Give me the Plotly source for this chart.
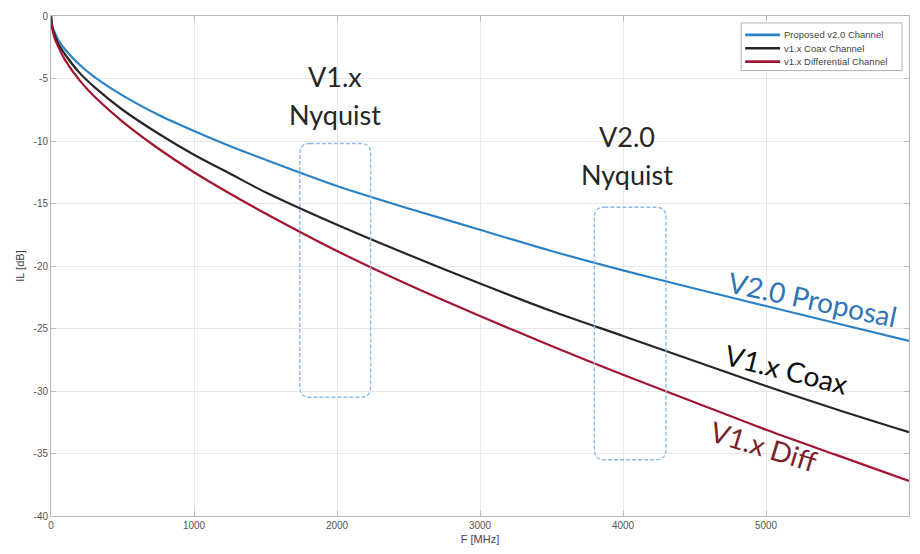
import plotly.graph_objects as go

# Frequencies [MHz]
freq = [0, 10, 25, 50, 100, 200, 300, 500, 750, 1000, 1250, 1500, 2000, 2500,
        3000, 3500, 4000, 4500, 5000, 5500, 6000]

# Insertion loss [dB]
il_v20 = [0.0, -0.85, -1.3, -1.9, -2.7, -3.9, -4.85, -6.35, -7.9, -9.2, -10.4, -11.5,
          -13.6, -15.4, -17.1, -18.8, -20.35, -21.8, -23.2, -24.6, -26.0]
il_coax = [0.0, -0.95, -1.5, -2.2, -3.1, -4.55, -5.65, -7.5, -9.4, -11.1, -12.6, -14.1,
           -16.7, -19.1, -21.4, -23.6, -25.6, -27.6, -29.6, -31.5, -33.3]
il_diff = [0.0, -1.1, -1.75, -2.45, -3.55, -5.15, -6.4, -8.45, -10.6, -12.5, -14.2, -15.8,
           -18.8, -21.5, -24.0, -26.4, -28.7, -30.9, -33.1, -35.15, -37.2]

series_names = ["Proposed v2.0 Channel", "v1.x Coax Channel", "v1.x Differential Channel"]
series_colors = ["#2b82c6", "#262626", "#a2142f"]

x_ticks = [0, 1000, 2000, 3000, 4000, 5000, 6000]
y_ticks = [0, -5, -10, -15, -20, -25, -30, -35, -40]

# Nyquist boxes: (x0, x1, y0, y1)
nyq_boxes = [(1740, 2235, -30.5, -10.2), (3800, 4300, -35.5, -15.3)]
nyq_labels = [("V1.x", 1984, -4.8), ("Nyquist", 1984, -7.85),
              ("V2.0", 4030, -9.65), ("Nyquist", 4030, -12.7)]

curve_labels = [("V2.0 Proposal", 5322, -22.6, 12, "#2e75b6"),
                ("V1.x Coax", 5141, -28.2, 14, "#111111"),
                ("V1.x Diff", 4987, -34.4, 17, "#7a1f2b")]

fig = go.Figure()
for name, ys, col in zip(series_names, [il_v20, il_coax, il_diff], series_colors):
    fig.add_trace(go.Scatter(x=freq, y=ys, mode="lines", name=name, showlegend=False,
                             line=dict(color=col, width=2.2, shape="spline", smoothing=0.8)))


def rounded_rect(x0, x1, y0, y1, rx=70, ry=0.8):
    return (f"M {x0+rx},{y1} L {x1-rx},{y1} Q {x1},{y1} {x1},{y1-ry} "
            f"L {x1},{y0+ry} Q {x1},{y0} {x1-rx},{y0} L {x0+rx},{y0} "
            f"Q {x0},{y0} {x0},{y0+ry} L {x0},{y1-ry} Q {x0},{y1} {x0+rx},{y1} Z")


for (x0, x1, y0, y1) in nyq_boxes:
    fig.add_shape(type="path", path=rounded_rect(x0, x1, y0, y1), xref="x", yref="y",
                  line=dict(color="#8cbbea", width=1.4, dash="4px,2px"))

for txt, x, y in nyq_labels:
    fig.add_annotation(x=x, y=y, xref="x", yref="y", text=txt, showarrow=False,
                       font=dict(family="Lato, Open Sans, sans-serif", size=27, color="#262626"))

for txt, x, y, ang, col in curve_labels:
    fig.add_annotation(x=x, y=y, xref="x", yref="y", text=txt, showarrow=False,
                       textangle=ang,
                       font=dict(family="Lato, Open Sans, sans-serif", size=28, color=col))

# Manual legend (plot-area paper coordinates)
PX0, PX1, PY0, PY1 = 51, 910, 12, 516


def px_x(p):
    return (p - PX0) / (PX1 - PX0)


def px_y(p):
    return (PY1 - p) / (PY1 - PY0)


fig.add_shape(type="rect", xref="paper", yref="paper",
              x0=px_x(742), x1=px_x(903), y0=px_y(67), y1=px_y(19),
              line=dict(color="#b0b0b0", width=1), fillcolor="white", layer="above")
for i, (name, col) in enumerate(zip(series_names, series_colors)):
    yy = px_y(31 + i * 13.5)
    fig.add_shape(type="line", xref="paper", yref="paper",
                  x0=px_x(746), x1=px_x(781), y0=yy, y1=yy,
                  line=dict(color=col, width=2.6), layer="above")
    fig.add_annotation(xref="paper", yref="paper", x=px_x(783), y=yy, text=name,
                       showarrow=False, xanchor="left", yanchor="middle",
                       font=dict(family="Liberation Sans, Arial, sans-serif", size=9.5, color="#444444"))

axis_common = dict(showgrid=True, gridcolor="#e8e8e8", gridwidth=1,
                   showline=True, linecolor="#b8b8b8", linewidth=1, mirror="ticks",
                   ticks="inside", ticklen=5, tickcolor="#b8b8b8",
                   zeroline=False,
                   tickfont=dict(family="Liberation Sans, Arial, sans-serif", size=10, color="#555555"))

fig.update_xaxes(range=[0, 6000], tickvals=x_ticks, ticktext=[str(v) for v in x_ticks],
                 title=dict(text="F [MHz]", standoff=5,
                            font=dict(family="Liberation Sans, Arial, sans-serif", size=11, color="#444444")),
                 **axis_common)
fig.update_yaxes(range=[-40, 0], tickvals=y_ticks, ticktext=[str(v) for v in y_ticks],
                 title=dict(text="IL [dB]", standoff=6,
                            font=dict(family="Liberation Sans, Arial, sans-serif", size=11, color="#444444")),
                 **axis_common)

fig.update_layout(
    width=920, height=554,
    margin=dict(l=51, r=10, t=12, b=38),
    paper_bgcolor="white", plot_bgcolor="white",
    showlegend=False,
)

fig.write_html("out.html")
